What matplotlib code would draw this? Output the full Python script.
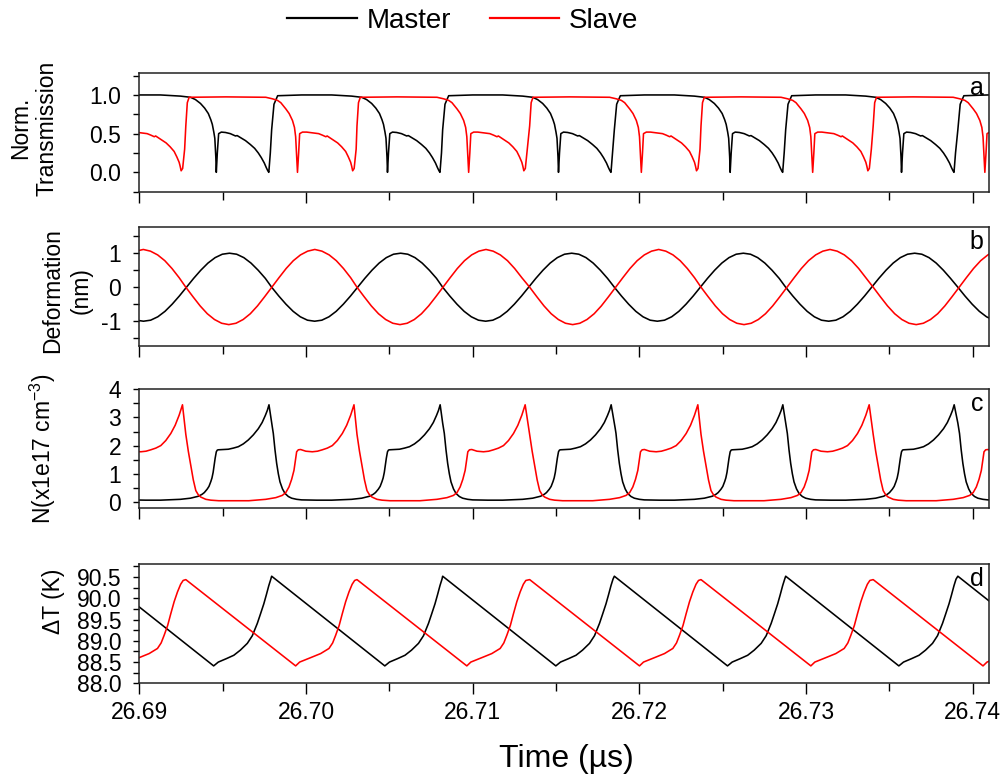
import numpy as np
import matplotlib
matplotlib.use('Agg')
import matplotlib.pyplot as plt
from matplotlib.lines import Line2D
from matplotlib.ticker import MultipleLocator, FormatStrFormatter

plt.rcParams['font.family'] = ['Liberation Sans', 'DejaVu Sans']
plt.rcParams['mathtext.fontset'] = 'custom'
plt.rcParams['mathtext.rm'] = 'Liberation Sans'
plt.rcParams['mathtext.it'] = 'Liberation Sans:italic'

# ----------------------------
# Data: one oscillation cycle per trace (offset in ns after cycle start),
# repeated at the cycle start times of each cavity
# ----------------------------
master_starts = [26.68767, 26.69794, 26.70820, 26.71850, 26.72878, 26.73911]
slave_starts = [26.68250, 26.69279, 26.70306, 26.71342, 26.72370, 26.73403]

# (a) normalised transmission
trans_master_t = [0.00, 0.14, 0.36, 1.80, 3.60, 4.80, 5.40, 5.70, 6.00, 6.25, 6.47,
                  6.62, 6.71, 6.80, 6.86, 6.92, 6.95, 7.01, 7.09, 7.25, 7.50, 7.79,
                  8.10, 8.20, 8.39, 8.70, 8.99, 9.25, 9.47, 9.65, 9.83, 9.95, 10.04,
                  10.10, 10.19]
trans_master_v = [0.55, 0.88, 0.99, 1.00, 1.00, 0.985, 0.97, 0.94, 0.89, 0.83, 0.76,
                  0.68, 0.62, 0.52, 0.44, 0.20, 0.00, 0.25, 0.50, 0.52, 0.515, 0.50,
                  0.47, 0.475, 0.45, 0.41, 0.36, 0.31, 0.25, 0.19, 0.12, 0.06, 0.02,
                  0.00, 0.25]
trans_slave_t = [0.00, 0.09, 0.20, 2.40, 4.80, 5.20, 5.50, 5.70, 6.00, 6.20, 6.40,
                 6.52, 6.59, 6.65, 6.70, 6.77, 6.83, 7.00, 7.25, 7.60, 7.97, 8.20,
                 8.40, 8.48, 8.69, 8.90, 9.11, 9.35, 9.59, 9.75, 9.89, 9.95, 10.01,
                 10.10, 10.22]
trans_slave_v = [0.60, 0.90, 0.97, 0.975, 0.97, 0.95, 0.93, 0.90, 0.82, 0.76, 0.67,
                 0.58, 0.46, 0.20, 0.00, 0.25, 0.50, 0.52, 0.52, 0.51, 0.50, 0.48,
                 0.46, 0.47, 0.44, 0.41, 0.38, 0.33, 0.27, 0.20, 0.13, 0.08, 0.02,
                 0.05, 0.30]

# (b) deformation (nm)
defo_t = [0.00, 0.43, 0.86, 1.29, 1.72, 2.15, 2.58, 3.01, 3.44, 3.87, 4.30, 4.73,
          5.16, 5.59, 6.02, 6.45, 6.88, 7.31, 7.74, 8.17, 8.60, 9.03, 9.46, 9.89]
defo_master_v = [0.00, -0.26, -0.50, -0.71, -0.87, -0.97, -1.00, -0.97, -0.87, -0.71,
                 -0.50, -0.26, 0.00, 0.26, 0.50, 0.71, 0.87, 0.97, 1.00, 0.97, 0.87,
                 0.71, 0.50, 0.26]
defo_slave_v = [0.00, -0.28, -0.55, -0.78, -0.95, -1.06, -1.10, -1.06, -0.95, -0.78,
                -0.55, -0.28, 0.00, 0.28, 0.55, 0.78, 0.95, 1.06, 1.11, 1.06, 0.95,
                0.78, 0.55, 0.28]

# (c) carrier density (1e17 cm^-3)
dens_master_t = [0.00, 0.05, 0.10, 0.20, 0.30, 0.40, 0.50, 0.65, 0.80, 1.00, 1.20,
                 1.50, 1.80, 2.70, 3.60, 4.80, 5.40, 5.88, 6.10, 6.23, 6.40, 6.51,
                 6.62, 6.69, 6.76, 6.81, 6.88, 6.95, 7.01, 7.07, 7.37, 7.67, 7.97,
                 8.27, 8.57, 8.87, 9.17, 9.47, 9.70, 9.89, 10.01, 10.11]
dens_master_v = [2.80, 2.62, 2.43, 1.85, 1.37, 1.00, 0.71, 0.46, 0.30, 0.19, 0.13,
                 0.09, 0.07, 0.06, 0.06, 0.09, 0.13, 0.20, 0.27, 0.33, 0.45, 0.55,
                 0.72, 0.85, 1.05, 1.25, 1.55, 1.78, 1.84, 1.85, 1.86, 1.87, 1.91,
                 1.96, 2.06, 2.20, 2.38, 2.60, 2.82, 3.07, 3.25, 3.45]
dens_slave_t = [0.00, 0.15, 0.30, 0.45, 0.60, 0.75, 0.90, 1.20, 1.50, 1.98, 3.78,
                4.80, 5.40, 5.79, 6.00, 6.19, 6.35, 6.49, 6.58, 6.65, 6.75, 6.89,
                7.20, 7.59, 7.90, 8.19, 8.49, 8.79, 9.09, 9.39, 9.65, 9.89, 10.00,
                10.09]
dens_slave_v = [2.40, 1.80, 1.30, 0.78, 0.40, 0.25, 0.17, 0.09, 0.06, 0.04, 0.04,
                0.09, 0.15, 0.23, 0.33, 0.53, 0.80, 1.12, 1.50, 1.78, 1.85, 1.86,
                1.80, 1.78, 1.80, 1.85, 1.91, 2.00, 2.18, 2.43, 2.72, 3.08, 3.28,
                3.45]

# (d) temperature rise (K)
temp_master_t = [0.00, 6.79, 7.07, 7.55, 8.00, 8.39, 8.81, 9.11, 9.41, 9.59, 9.80,
                 9.95, 10.10, 10.22]
temp_master_v = [90.52, 88.41, 88.50, 88.58, 88.66, 88.78, 88.94, 89.12, 89.41,
                 89.62, 89.87, 90.08, 90.30, 90.45]
temp_slave_t = [0.00, 6.59, 6.83, 7.59, 8.09, 8.59, 8.81, 8.99, 9.20, 9.39, 9.59,
                9.79, 9.98, 10.13]
temp_slave_v = [90.44, 88.41, 88.50, 88.62, 88.70, 88.82, 88.95, 89.13, 89.36,
                89.64, 89.92, 90.15, 90.33, 90.42]


def tile(starts, offsets_ns, values):
    t, y = [], []
    for s in starts:
        t.extend(s + np.asarray(offsets_ns) * 1e-3)
        y.extend(values)
    return np.array(t), np.array(y)


fig = plt.figure(figsize=(10.08, 7.83), dpi=100)

left, width = 0.1382, 0.8433
boxes = [(0.7552, 0.1512), (0.5585, 0.1520), (0.3508, 0.1520), (0.1273, 0.1520)]
axes = [fig.add_axes([left, b, width, h]) for b, h in boxes]

panels = [
    ((trans_master_t, trans_master_v), (trans_slave_t, trans_slave_v)),
    ((defo_t, defo_master_v), (defo_t, defo_slave_v)),
    ((dens_master_t, dens_master_v), (dens_slave_t, dens_slave_v)),
    ((temp_master_t, temp_master_v), (temp_slave_t, temp_slave_v)),
]

LW = 1.15
TICK_FS = 16.5
for ax, (m, s) in zip(axes, panels):
    ax.plot(*tile(master_starts, *m), color='black', lw=LW)
    ax.plot(*tile(slave_starts, *s), color='#ff0000', lw=LW)
    ax.set_xlim(26.69, 26.741)
    ax.xaxis.set_major_locator(MultipleLocator(0.01))
    ax.xaxis.set_minor_locator(MultipleLocator(0.005))
    ax.xaxis.set_major_formatter(FormatStrFormatter('%.2f'))
    ax.tick_params(axis='x', which='major', direction='out', length=8, width=1.0,
                   labelsize=TICK_FS, pad=4.5)
    ax.tick_params(axis='x', which='minor', direction='out', length=5.5, width=1.0)
    ax.tick_params(axis='y', which='both', direction='out', length=4.5, width=1.0,
                   labelsize=TICK_FS, pad=8.5)
    for sp in ax.spines.values():
        sp.set_linewidth(1.1)
        sp.set_color('#222222')

for ax in axes[:-1]:
    ax.tick_params(axis='x', labelbottom=False)

# y ranges and ticks
axes[0].set_ylim(-0.25, 1.28)
axes[0].yaxis.set_major_locator(MultipleLocator(0.5))
axes[0].yaxis.set_minor_locator(MultipleLocator(0.25))
axes[0].yaxis.set_major_formatter(FormatStrFormatter('%.1f'))

axes[1].set_ylim(-1.72, 1.78)
axes[1].yaxis.set_major_locator(MultipleLocator(1))
axes[1].yaxis.set_minor_locator(MultipleLocator(0.5))
axes[1].yaxis.set_major_formatter(FormatStrFormatter('%d'))

axes[2].set_ylim(-0.23, 4.0)
axes[2].yaxis.set_major_locator(MultipleLocator(1))
axes[2].yaxis.set_minor_locator(MultipleLocator(0.5))
axes[2].yaxis.set_major_formatter(FormatStrFormatter('%d'))

axes[3].set_ylim(88.0, 90.8)
axes[3].yaxis.set_major_locator(MultipleLocator(0.5))
axes[3].yaxis.set_minor_locator(MultipleLocator(0.25))
axes[3].yaxis.set_major_formatter(FormatStrFormatter('%.1f'))

# panel letters
for ax, letter in zip(axes, ['a', 'b', 'c', 'd']):
    ax.text(0.993, 0.975, letter, transform=ax.transAxes, ha='right', va='top',
            fontsize=18)

# axis labels
YL_FS = 16.5
fig.text(0.0332, 0.8365, 'Norm.\nTransmission', rotation=90, ha='center',
         va='center', fontsize=YL_FS, multialignment='center')
fig.text(0.066, 0.6284, 'Deformation\n(nm)', rotation=90, ha='center',
         va='center', fontsize=YL_FS, multialignment='center', linespacing=1.3)
fig.text(0.0427, 0.4266, r'N(x1e17 cm$^{\mathregular{-3}}$)', rotation=90,
         ha='center', va='center', fontsize=YL_FS)
fig.text(0.0526, 0.2324, '\u0394T (K)', rotation=90, ha='center', va='center',
         fontsize=YL_FS)
fig.text(0.5615, 0.031, 'Time (\u00b5s)', ha='center', va='center', fontsize=23)

# legend across the top
handles = [Line2D([], [], color='black', lw=1.6), Line2D([], [], color='#ff0000', lw=1.6)]
fig.legend(handles, ['Master', 'Slave'], loc='center', ncol=2, frameon=False,
           bbox_to_anchor=(0.459, 0.973), handlelength=2.5,
           handletextpad=0.35, columnspacing=1.4,
           prop={'family': ['Liberation Sans', 'DejaVu Sans'], 'size': 20})

fig.savefig('out.png', dpi=100)
